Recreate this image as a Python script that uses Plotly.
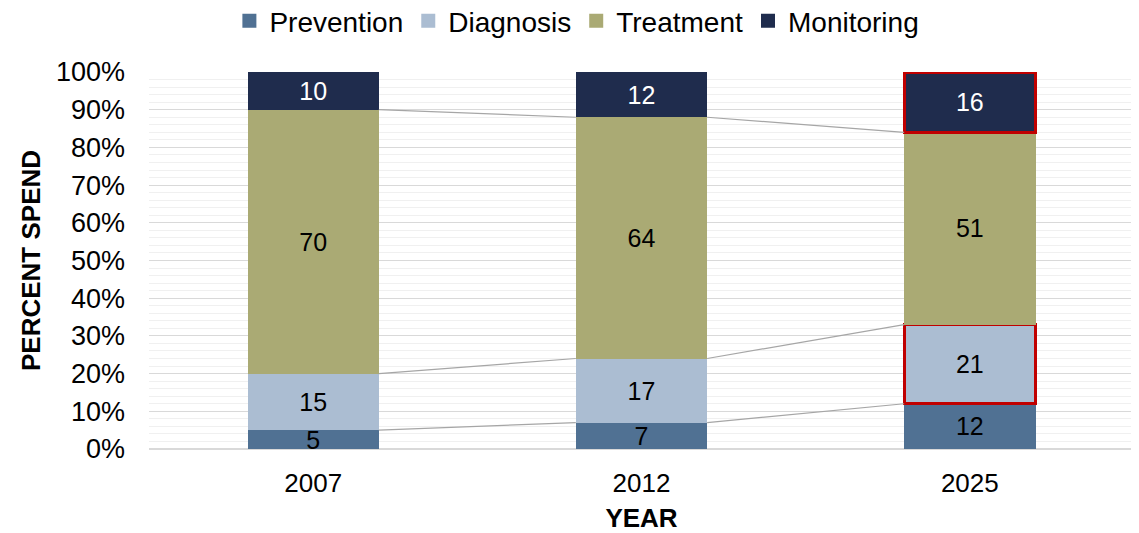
import plotly.graph_objects as go

years = ["2007", "2012", "2025"]
prevention = [5, 7, 12]
diagnosis = [15, 17, 21]
treatment = [70, 64, 51]
monitoring = [10, 12, 16]

series = [
    ("Prevention", prevention, "#507193", "black"),
    ("Diagnosis", diagnosis, "#abbdd2", "black"),
    ("Treatment", treatment, "#aaaa74", "black"),
    ("Monitoring", monitoring, "#1f2c4d", "white"),
]
highlight = {"Diagnosis": [2], "Monitoring": [2]}

FONT = "Liberation Sans, Arial, Helvetica"
xs = list(range(len(years)))
bw = 0.4
fig = go.Figure()

for name, vals, color, tcolor in series:
    hl = highlight.get(name, [])
    fig.add_trace(go.Bar(
        name=name, x=xs, y=vals, width=bw,
        marker=dict(color=color,
                    line=dict(color=["#c00000" if i in hl else color for i in xs],
                              width=[3 if i in hl else 0 for i in xs])),
        text=[str(v) for v in vals], textposition="inside", textangle=0,
        insidetextanchor="middle", constraintext="none",
        textfont=dict(color=tcolor, size=25, family=FONT),
    ))

# series connector lines
cum = [0] * len(years)
for name, vals, color, tcolor in series[:-1]:
    cum = [c + v for c, v in zip(cum, vals)]
    for i in range(len(years) - 1):
        fig.add_trace(go.Scatter(
            x=[xs[i] + bw / 2, xs[i + 1] - bw / 2], y=[cum[i], cum[i + 1]],
            mode="lines", line=dict(color="#a6a6a6", width=1.2),
            showlegend=False, hoverinfo="skip"))

fig.update_layout(
    barmode="stack",
    width=1131, height=525,
    margin=dict(l=141, r=5, t=64, b=84, autoexpand=False),
    plot_bgcolor="white", paper_bgcolor="white",
    font=dict(family=FONT, size=25, color="black"),
    uniformtext=dict(minsize=25, mode="show"),
    legend=dict(orientation="h", x=0.503, xanchor="center", xref="container",
                y=1.135, yanchor="middle", yref="paper",
                font=dict(size=28), traceorder="normal",
                itemwidth=30, itemsizing="constant", tracegroupgap=0),
    xaxis=dict(tickvals=xs, ticktext=years, range=[-0.5, 2.5], automargin=False,
               showgrid=False, zeroline=False, showline=False,
               ticklabelstandoff=16,
               title=dict(text="<b>YEAR</b>", font=dict(size=26), standoff=16),
               tickfont=dict(size=26)),
    yaxis=dict(range=[0, 100], dtick=10, ticksuffix="%", automargin=False,
               gridcolor="#d9d9d9", gridwidth=1, zeroline=True, zerolinecolor="#d9d9d9",
               zerolinewidth=2, ticklabelstandoff=23,
               minor=dict(dtick=2, showgrid=True, gridcolor="#f0f0f0", gridwidth=1),
               title=dict(text="<b>PERCENT SPEND</b>", font=dict(size=26), standoff=7),
               tickfont=dict(size=27)),
)

fig.write_html("out.html")
